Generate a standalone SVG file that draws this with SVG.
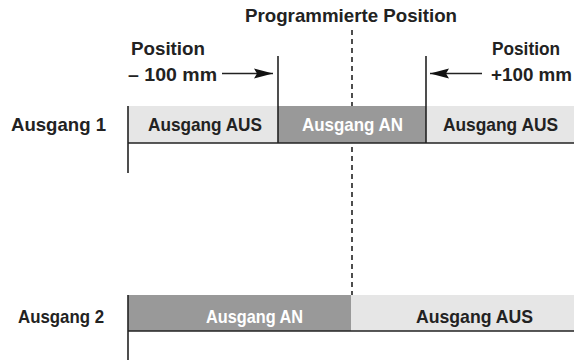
<svg xmlns="http://www.w3.org/2000/svg" width="574" height="364" viewBox="0 0 574 364">
<style>
text{font-family:"Liberation Sans",Arial,sans-serif;font-weight:bold;font-size:19px;fill:#222}
.w{fill:#fff}
.ln{stroke:#222;stroke-width:1.6;fill:none}
.light{fill:#e6e6e6}
.dark{fill:#999}
</style>
<defs>
<marker id="ah" markerWidth="20" markerHeight="12" refX="19" refY="6" orient="auto" markerUnits="userSpaceOnUse">
<path d="M0,1 L19,6 L0,11 L3,6 Z" fill="#111"/>
</marker>
</defs>
<rect width="574" height="364" fill="#fff"/>
<g id="title">
<text x="351" y="22" text-anchor="middle" textLength="212" lengthAdjust="spacingAndGlyphs">Programmierte Position</text>
</g>
<g id="dash">
<line x1="352" y1="30" x2="352" y2="295" stroke="#222" stroke-width="1.6" stroke-dasharray="5,4"/>
</g>
<g id="row1">
<rect class="light" x="128" y="106" width="150" height="37"/>
<rect class="dark" x="278" y="106" width="148" height="37"/>
<rect class="light" x="426" y="106" width="148" height="37"/>
<text x="11" y="131" textLength="95" lengthAdjust="spacingAndGlyphs">Ausgang 1</text>
<text x="148" y="131" textLength="114" lengthAdjust="spacingAndGlyphs">Ausgang AUS</text>
<text class="w" x="302" y="131" textLength="101" lengthAdjust="spacingAndGlyphs">Ausgang AN</text>
<text x="443" y="131" textLength="115" lengthAdjust="spacingAndGlyphs">Ausgang AUS</text>
</g>
<g id="row2">
<rect class="dark" x="128" y="295" width="223" height="36"/>
<rect class="light" x="351" y="295" width="223" height="36"/>
<text x="18" y="323" textLength="86" lengthAdjust="spacingAndGlyphs">Ausgang 2</text>
<text class="w" x="206" y="323" textLength="97" lengthAdjust="spacingAndGlyphs">Ausgang AN</text>
<text x="416" y="323" textLength="117" lengthAdjust="spacingAndGlyphs">Ausgang AUS</text>
</g>
<g id="labels">
<text x="131" y="55" textLength="74" lengthAdjust="spacingAndGlyphs">Position</text>
<text x="128" y="81" textLength="89" lengthAdjust="spacingAndGlyphs">– 100 mm</text>
<text x="492" y="55" textLength="68" lengthAdjust="spacingAndGlyphs">Position</text>
<text x="491" y="81" textLength="81" lengthAdjust="spacingAndGlyphs">+100 mm</text>
</g>
<g id="connectors">
<line class="ln" x1="128" y1="106" x2="128" y2="173"/>
<line class="ln" x1="128" y1="143" x2="574" y2="143"/>
<line class="ln" x1="278" y1="56" x2="278" y2="143"/>
<line class="ln" x1="426" y1="56" x2="426" y2="143"/>
<line class="ln" x1="128" y1="295" x2="128" y2="360"/>
<line class="ln" x1="128" y1="331" x2="574" y2="331"/>
<line class="ln" x1="222" y1="73.5" x2="273" y2="73.5" marker-end="url(#ah)"/>
<line class="ln" x1="482" y1="73.5" x2="430" y2="73.5" marker-end="url(#ah)"/>
</g>
</svg>
